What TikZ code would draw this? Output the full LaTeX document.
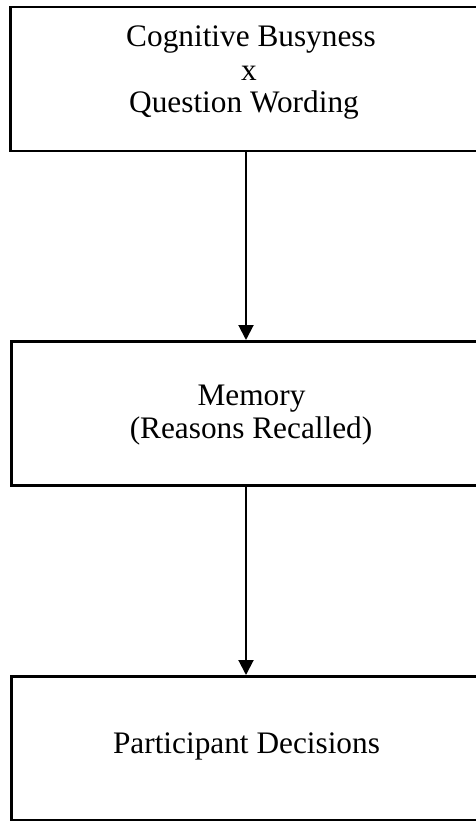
\documentclass[tikz,border=0pt]{standalone}
\usepackage{fontspec}
\setmainfont{Liberation Serif}
\usetikzlibrary{arrows.meta}
\begin{document}
\begin{tikzpicture}[x=1pt,y=-1pt,
  box/.style={draw=black, line width=2.5pt, inner sep=0pt, anchor=north west},
  lbl/.style={font=\fontsize{31.3}{33}\selectfont, inner sep=0pt, anchor=base},
  arr/.style={line width=2pt, -{Triangle[width=15pt,length=15pt]}}]
\useasboundingbox (0,0) rectangle (475,821);
\node[box, minimum width=474pt, minimum height=144pt] (top) at (9,6) {};
\node[box, minimum width=474pt, minimum height=144pt] (mid) at (10,340) {};
\node[box, minimum width=474pt, minimum height=144pt] (bot) at (10,675) {};
\node[lbl] (t1) at (251,47) {Cognitive Busyness};
\node[lbl] (t2) at (249,81) {x};
\node[lbl] (t3) at (244,113) {Question Wording};
\node[lbl] (m1) at (251.5,405) {Memory};
\node[lbl] (m2) at (251,438) {(Reasons Recalled)};
\node[lbl] (b1) at (246.5,753) {Participant Decisions};
\coordinate (ax) at (246,0);
\draw[arr] (top.south -| ax) -- (mid.north -| ax);
\draw[arr] (mid.south -| ax) -- (bot.north -| ax);
\end{tikzpicture}
\end{document}
